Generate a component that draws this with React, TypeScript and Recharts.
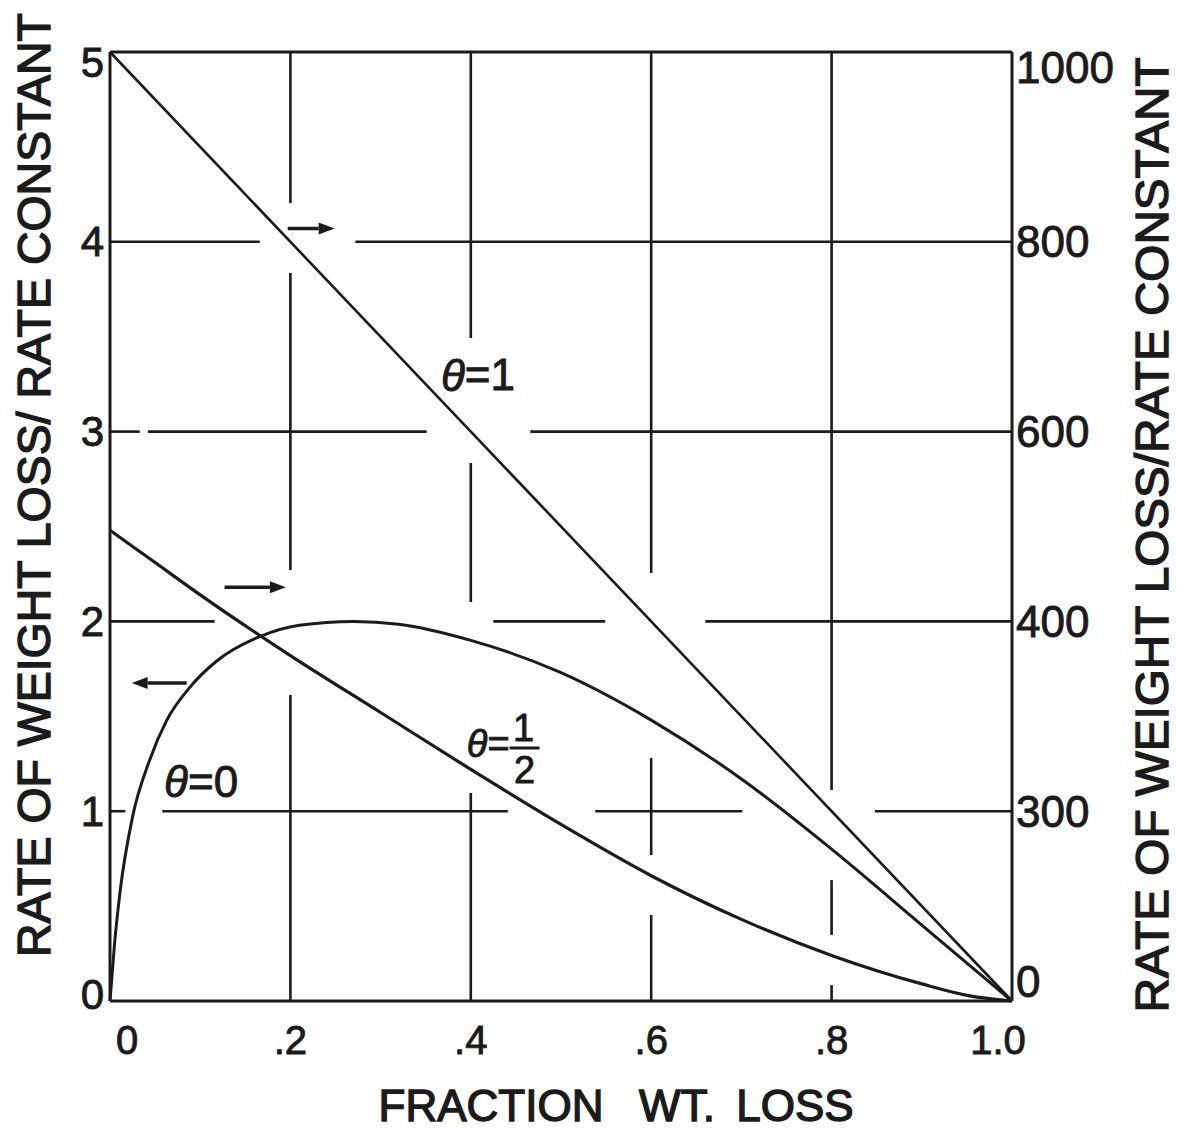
import React from 'react';
import { LineChart, Line, XAxis, YAxis, ReferenceLine, ReferenceDot } from 'recharts';

const INK = '#1b1b1b';
const FONT = '"Liberation Sans", Arial, sans-serif';

// fraction wt. loss (x); theta = 1 is read on the right axis, the others on the left
const thetaOneX = [0, 1];
const thetaOneY = [1000, 0];

const thetaHalfX = [0, 0.05, 0.1, 0.2, 0.3, 0.4, 0.5, 0.6, 0.7, 0.8, 0.9, 0.95, 1];
const thetaHalfY = [2.48, 2.31, 2.14, 1.82, 1.52, 1.22, 0.93, 0.66, 0.43, 0.24, 0.09, 0.03, 0];

const thetaZeroX = [0, 0.005, 0.011, 0.025, 0.044, 0.063, 0.088, 0.118, 0.166, 0.21, 0.27, 0.32, 0.4, 0.5, 0.6, 0.7, 0.8, 0.9, 1];
const thetaZeroY = [0, 0.3, 0.57, 0.97, 1.27, 1.48, 1.65, 1.79, 1.92, 1.98, 2.0, 1.985, 1.9, 1.73, 1.48, 1.17, 0.8, 0.4, 0];

const xTicks = [0, 0.2, 0.4, 0.6, 0.8, 1];
const xTickLabels = ['0', '.2', '.4', '.6', '.8', '1.0'];
const leftTicks = [0, 1, 2, 3, 4, 5];
const leftTickLabels = ['0', '1', '2', '3', '4', '5'];
const rightTicks = [0, 200, 400, 600, 800, 1000];
const rightTickLabels = ['0', '300', '400', '600', '800', '1000'];

// the printed grid is broken in places: gaps per line, in data units
const vGrid = [0.2, 0.4, 0.6, 0.8];
const vGridGaps = [
  [[1.612, 2.271], [3.836, 4.204]],
  [[1.096, 2.102], [2.835, 3.493]],
  [[0.453, 0.769], [1.28, 2.255]],
  [[0.084, 0.348], [0.637, 1.112]],
];
const hGrid = [1, 2, 3, 4];
const hGridGaps = [
  [[0.017, 0.058], [0.441, 0.538], [0.701, 0.848]],
  [[0.116, 0.425], [0.549, 0.66]],
  [[0.033, 0.042], [0.351, 0.466]],
  [[0.166, 0.272]],
];

// axis arrows: which scale a curve is read on
const arrows = [
  { x1: 0.197, x2: 0.249, y: 4.07 },
  { x1: 0.127, x2: 0.195, y: 2.18 },
  { x1: 0.085, x2: 0.024, y: 1.675 },
];

const toPoints = (xs: number[], ys: number[]) => xs.map((x, i) => ({ x, y: ys[i] }));

const pieces = (start: number, end: number, gaps: number[][]) => {
  const out: number[][] = [];
  let cur = start;
  gaps.forEach(([a, b]) => {
    out.push([cur, a]);
    cur = b;
  });
  out.push([cur, end]);
  return out;
};

const tickText = { fontFamily: FONT, fill: INK, stroke: INK, strokeWidth: 0.9 };

const LeftTick = (props: any) => {
  const { x, y, payload } = props;
  const i = leftTicks.indexOf(payload.value);
  const dy = payload.value === 5 ? 10 : payload.value === 0 ? -7 : 0;
  return (
    <text x={x - 6} y={y + dy} textAnchor="end" dominantBaseline="central" fontSize={42} {...tickText}>
      {leftTickLabels[i]}
    </text>
  );
};

const RightTick = (props: any) => {
  const { x, y, payload } = props;
  const i = rightTicks.indexOf(payload.value);
  const dy = payload.value === 1000 ? 15 : payload.value === 0 ? -20 : 0;
  return (
    <text x={x + 4} y={y + dy} textAnchor="start" dominantBaseline="central" fontSize={44} {...tickText}>
      {rightTickLabels[i]}
    </text>
  );
};

const BottomTick = (props: any) => {
  const { x, y, payload } = props;
  const i = xTicks.indexOf(payload.value);
  const dx = i === 0 ? 17 : i === xTicks.length - 1 ? -14 : 0;
  return (
    <text x={x + dx} y={y + 39} textAnchor="middle" dominantBaseline="central" fontSize={40} {...tickText}>
      {xTickLabels[i]}
    </text>
  );
};

const arrowShape = (props: any) => {
  const { x1, y1, x2, y2 } = props;
  const ang = Math.atan2(y2 - y1, x2 - x1);
  const len = 16;
  const w = 6;
  const bx = x2 - len * Math.cos(ang);
  const by = y2 - len * Math.sin(ang);
  const px = -Math.sin(ang) * w;
  const py = Math.cos(ang) * w;
  return (
    <g>
      <line x1={x1} y1={y1} x2={bx} y2={by} stroke={INK} strokeWidth={3.5} />
      <polygon points={`${x2},${y2} ${bx + px},${by + py} ${bx - px},${by - py}`} fill={INK} />
    </g>
  );
};

const labelText = { fontFamily: FONT, fill: INK, stroke: INK, strokeWidth: 0.9 };

const ThetaLabel = (value: string) => (props: any) => (
  <text x={props.cx} y={props.cy} textAnchor="middle" dominantBaseline="central" fontSize={44} {...labelText}>
    <tspan fontStyle="italic">θ</tspan>={value}
  </text>
);

const HalfLabel = (props: any) => {
  const { cx, cy } = props;
  return (
    <g>
      <text x={cx} y={cy - 4} textAnchor="end" dominantBaseline="central" fontSize={38} {...labelText}>
        <tspan fontStyle="italic">θ</tspan>=
      </text>
      <text x={cx + 14} y={cy - 20} textAnchor="middle" dominantBaseline="central" fontSize={38} {...labelText}>1</text>
      <line x1={cx} y1={cy} x2={cx + 30} y2={cy} stroke={INK} strokeWidth={3} />
      <text x={cx + 15} y={cy + 22} textAnchor="middle" dominantBaseline="central" fontSize={38} {...labelText}>2</text>
    </g>
  );
};

const titleText = { fontFamily: FONT, fill: INK, stroke: INK, strokeWidth: 1.4 };

export default function App() {
  const axisLine = { stroke: INK, strokeWidth: 3 };
  return (
    <div style={{ position: 'absolute', left: 0, top: 0, width: 1177, height: 1129, background: '#fff' }}>
      <LineChart width={1177} height={1129} margin={{ top: 52, right: 65, bottom: 48, left: 40 }}>
        <XAxis
          dataKey="x"
          type="number"
          domain={[0, 1]}
          ticks={xTicks}
          height={80}
          tickSize={0}
          tickMargin={0}
          tickLine={false}
          axisLine={axisLine}
          tick={<BottomTick />}
        />
        <YAxis
          yAxisId="left"
          type="number"
          domain={[0, 5]}
          ticks={leftTicks}
          width={70}
          tickSize={0}
          tickMargin={0}
          tickLine={false}
          axisLine={axisLine}
          tick={<LeftTick />}
        />
        <YAxis
          yAxisId="right"
          orientation="right"
          type="number"
          domain={[0, 1000]}
          ticks={rightTicks}
          width={100}
          tickSize={0}
          tickMargin={0}
          tickLine={false}
          axisLine={axisLine}
          tick={<RightTick />}
        />

        {vGrid.map((gx, gi) =>
          pieces(0, 5, vGridGaps[gi]).map(([a, b], pi) => (
            <ReferenceLine
              key={`v${gi}-${pi}`}
              yAxisId="left"
              segment={[{ x: gx, y: a }, { x: gx, y: b }]}
              stroke={INK}
              strokeWidth={2.6}
            />
          ))
        )}
        {hGrid.map((gy, gi) =>
          pieces(0, 1, hGridGaps[gi]).map(([a, b], pi) => (
            <ReferenceLine
              key={`h${gi}-${pi}`}
              yAxisId="left"
              segment={[{ x: a, y: gy }, { x: b, y: gy }]}
              stroke={INK}
              strokeWidth={2.6}
            />
          ))
        )}
        <ReferenceLine yAxisId="left" y={5} stroke={INK} strokeWidth={3} />

        <Line
          data={toPoints(thetaOneX, thetaOneY)}
          dataKey="y"
          yAxisId="right"
          type="linear"
          stroke={INK}
          strokeWidth={2.6}
          dot={false}
          isAnimationActive={false}
        />
        <Line
          data={toPoints(thetaHalfX, thetaHalfY)}
          dataKey="y"
          yAxisId="left"
          type="monotone"
          stroke={INK}
          strokeWidth={3.2}
          dot={false}
          isAnimationActive={false}
        />
        <Line
          data={toPoints(thetaZeroX, thetaZeroY)}
          dataKey="y"
          yAxisId="left"
          type="monotone"
          stroke={INK}
          strokeWidth={3}
          dot={false}
          isAnimationActive={false}
        />

        {arrows.map((a, i) => (
          <ReferenceLine
            key={`a${i}`}
            yAxisId="left"
            segment={[{ x: a.x1, y: a.y }, { x: a.x2, y: a.y }]}
            shape={arrowShape}
          />
        ))}

        <ReferenceDot yAxisId="left" x={0.408} y={3.3} r={0} shape={ThetaLabel('1')} />
        <ReferenceDot yAxisId="left" x={0.101} y={1.159} r={0} shape={ThetaLabel('0')} />
        <ReferenceDot yAxisId="left" x={0.443} y={1.333} r={0} shape={HalfLabel} />
      </LineChart>

      <svg width={1177} height={1129} style={{ position: 'absolute', left: 0, top: 0, pointerEvents: 'none' }}>
        <text
          transform="translate(34,485) rotate(-90)"
          textAnchor="middle"
          dominantBaseline="central"
          fontSize={46}
          textLength={944}
          lengthAdjust="spacingAndGlyphs"
          {...titleText}
        >
          RATE OF WEIGHT LOSS/ RATE CONSTANT
        </text>
        <text
          transform="translate(1152,535) rotate(-90)"
          textAnchor="middle"
          dominantBaseline="central"
          fontSize={46}
          textLength={955}
          lengthAdjust="spacingAndGlyphs"
          {...titleText}
        >
          RATE OF WEIGHT LOSS/RATE CONSTANT
        </text>
        <text x={491} y={1105} textAnchor="middle" dominantBaseline="central" fontSize={44} {...titleText}>FRACTION</text>
        <text x={677} y={1105} textAnchor="middle" dominantBaseline="central" fontSize={44} {...titleText}>WT.</text>
        <text x={795} y={1105} textAnchor="middle" dominantBaseline="central" fontSize={44} {...titleText}>LOSS</text>
      </svg>
    </div>
  );
}
